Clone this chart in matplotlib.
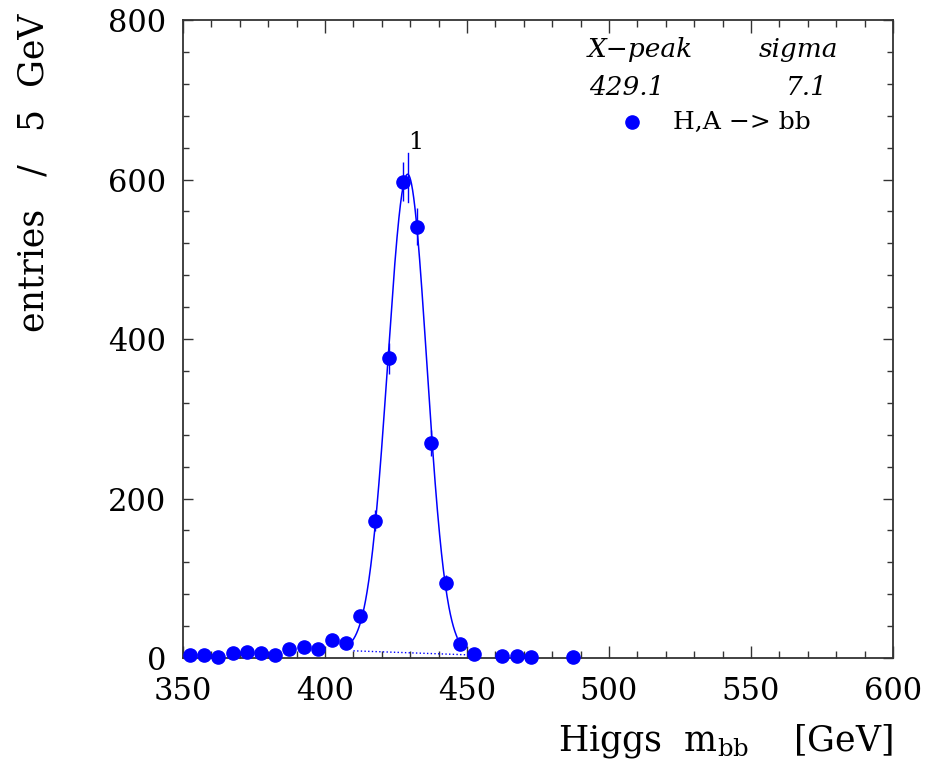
import numpy as np
import matplotlib
matplotlib.use("Agg")
import matplotlib.pyplot as plt

plt.rcParams['font.family'] = ['DejaVu Serif']
plt.rcParams['mathtext.fontset'] = 'dejavuserif'

# histogram bins (5 GeV) and entries; empty bins are left out
bin_centers = [352.5, 357.5, 362.5, 367.5, 372.5, 377.5, 382.5, 387.5, 392.5,
               397.5, 402.5, 407.5, 412.5, 417.5, 422.5, 427.5, 432.5, 437.5,
               442.5, 447.5, 452.5, 462.5, 467.5, 472.5, 487.5]
entries = [4, 4, 1, 6, 8, 6, 4, 11, 14,
           11, 23, 19, 53, 172, 376, 597, 541, 270,
           94, 18, 5, 3, 2, 1, 1]

# fit result: gaussian (slightly wider on the low side) on a linear background
fit_range = [407.5, 446.5]
peak = 429.1
sigma_txt = 7.1
amp = 600.0
sig_left, sig_right = 7.0, 6.75
bg_x = [410.0, 450.0]
bg_y = [9.0, 4.0]
peak_marker = [572, 633]


def background(x):
    return bg_y[0] + (bg_y[1] - bg_y[0]) * (x - bg_x[0]) / (bg_x[1] - bg_x[0])


def fit_func(x):
    sig = np.where(x < peak, sig_left, sig_right)
    return amp * np.exp(-(x - peak) ** 2 / (2 * sig ** 2)) + background(x)


fig = plt.figure(figsize=(9.31, 7.65), dpi=100)
ax = fig.add_axes([183 / 931, 1 - 658 / 765, 710 / 931, 638 / 765])

blue = '#0000ff'
x = np.array(bin_centers)
y = np.array(entries, dtype=float)
ax.errorbar(x, y, yerr=np.sqrt(y), fmt='o', color=blue, ms=9.5,
            elinewidth=1.0, capsize=0, zorder=3, clip_on=False)

xf = np.linspace(fit_range[0], fit_range[1], 300)
ax.plot(xf, fit_func(xf), color=blue, lw=1.1, zorder=2)
ax.plot(bg_x, bg_y, color=blue, lw=1.0, ls=':', zorder=2)
ax.plot([peak, peak], peak_marker, color=blue, lw=1.0, zorder=2)
ax.text(peak + 3, peak_marker[1] - 1, '1', fontsize=17, ha='center', va='bottom')

ax.set_xlim(350, 600)
ax.set_ylim(0, 800)
ax.set_xticks(np.arange(350, 601, 50))
ax.set_xticks(np.arange(350, 601, 10), minor=True)
ax.set_yticks(np.arange(0, 801, 200))
ax.set_yticks(np.arange(0, 801, 40), minor=True)
ax.tick_params(which='both', direction='in', top=True, right=True,
               labelsize=22, color='#333333', width=1.0)
ax.tick_params(axis='x', which='major', length=9, pad=13)
ax.tick_params(axis='x', which='minor', length=5)
ax.tick_params(axis='y', which='major', length=7, pad=12)
ax.tick_params(axis='y', which='minor', length=4.5)
for s in ax.spines.values():
    s.set_linewidth(1.3)
    s.set_color('#333333')

ax.set_xlabel(r'Higgs  m$_{\mathrm{bb}}$    [GeV]', fontsize=25, loc='right')
ax.xaxis.set_label_coords(1.0, -0.100)
ax.set_ylabel('entries   /   5  GeV', fontsize=25, loc='top')
ax.yaxis.set_label_coords(-0.187, 1.01)

# fit summary and legend
ax.text(0.570, 0.942, 'X\u2212peak', transform=ax.transAxes, fontsize=19,
        style='italic', ha='left', va='baseline')
ax.text(0.9225, 0.942, 'sigma', transform=ax.transAxes, fontsize=19,
        style='italic', ha='right', va='baseline')
ax.text(0.572, 0.8825, f'{peak:.1f}', transform=ax.transAxes, fontsize=19,
        style='italic', ha='left', va='baseline')
ax.text(0.908, 0.8825, f'{sigma_txt:.1f}', transform=ax.transAxes, fontsize=19,
        style='italic', ha='right', va='baseline')
ax.plot([0.632], [0.840], 'o', color=blue, ms=9.5, transform=ax.transAxes)
ax.text(0.690, 0.840, 'H,A \u2212> bb', transform=ax.transAxes, fontsize=18,
        ha='left', va='center')

fig.savefig('out.png', dpi=100)
